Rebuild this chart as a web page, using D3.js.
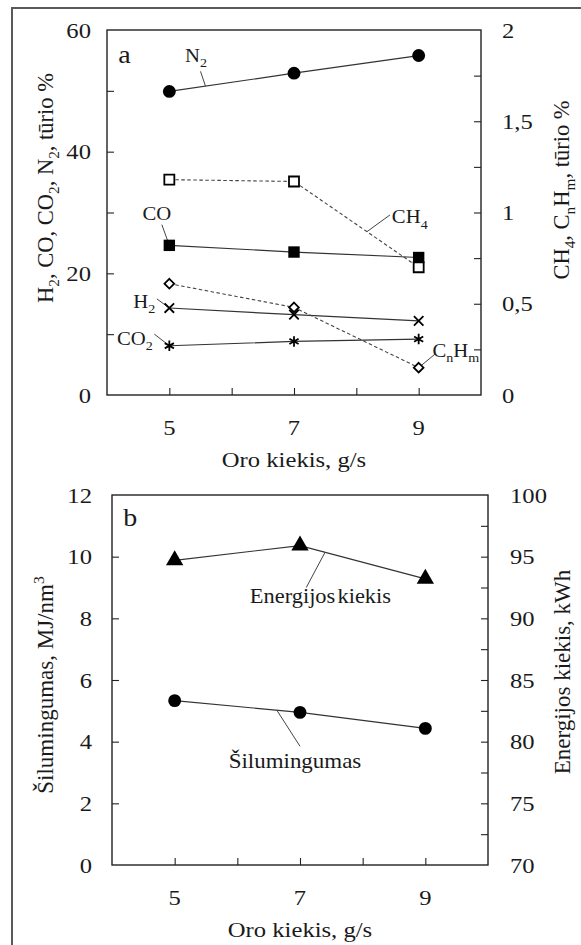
<!DOCTYPE html>
<html><head><meta charset="utf-8">
<script src="https://cdn.jsdelivr.net/npm/d3@7"></script>
<style>
body{margin:0;background:#fff}
svg{display:block}
text{font-family:"Liberation Serif","Times New Roman",serif;fill:#1a1a1a}
</style>
</head><body>
<svg id="c" width="581" height="945"></svg>
<script>
// ---------- data ----------
const airFlow = [5, 7, 9];                 // Oro kiekis, g/s
const n2   = [49.9, 52.9, 55.8];           // left axis, %
const co   = [24.6, 23.5, 22.6];
const h2   = [14.3, 13.2, 12.2];
const co2  = [8.1, 8.8, 9.2];
const ch4  = [1.18, 1.17, 0.70];           // right axis, %
const cnhm = [0.61, 0.48, 0.15];
const heatValue = [5.33, 4.95, 4.43];      // Šilumingumas, MJ/nm3
const energy    = [94.7, 95.9, 93.2];      // Energijos kiekis, kWh
const xTickLabels = [5, 7, 9];
const topLeftTicks = [0, 20, 40, 60];
const topRightTicks = [0, 0.5, 1, 1.5, 2];
const botLeftTicks = [0, 2, 4, 6, 8, 10, 12];
const botRightTicks = [70, 75, 80, 85, 90, 95, 100];

// ---------- setup ----------
const SX = 1.12;   // horizontal stretch of glyphs seen in the reference
const svg = d3.select('#c');
const lt = d3.formatLocale({decimal: ',', thousands: ' ', grouping: [3], currency: ['', '']});
const fmt = v => lt.format('~g')(v);

svg.append('rect').attr('x', 12).attr('y', 8).attr('width', 640).attr('height', 990)
  .attr('fill', 'none').attr('stroke', '#5a5a5a').attr('stroke-width', 2);

function txt(g, x, y, parts, o = {}) {
  const size = o.size || 22;
  const rot = o.rotate ? ' rotate(-90)' : '';
  const sx = o.rotate ? 1 : SX;
  const t = g.append('text')
    .attr('transform', `translate(${x},${y}) scale(${sx},1)${rot}`)
    .attr('text-anchor', o.anchor || 'start')
    .attr('font-size', size);
  if (o.dy) t.attr('dy', o.dy);
  if (o.ws) t.attr('word-spacing', o.ws);
  let shift = 0;
  parts.forEach(p => {
    const [s, kind] = Array.isArray(p) ? p : [p, ''];
    const ts = t.append('tspan').text(s);
    let target = 0;
    if (kind === 'sub') { target = size * 0.28; ts.attr('font-size', size * 0.68); }
    if (kind === 'sup') { target = -size * 0.4; ts.attr('font-size', size * 0.68); }
    if (target !== shift) { ts.attr('dy', target - shift); shift = target; }
  });
  return t;
}

function axes(g, x, yL, yR, o) {
  const [x0, x1] = x.range(), [y0, y1] = yL.range();
  // inward ticks
  const ax = d3.axisBottom(x).tickValues(d3.range(5, 10, 1)).tickSize(-7).tickSizeOuter(0).tickFormat('');
  g.append('g').attr('transform', `translate(0,${y0})`).call(ax);
  const al = d3.axisLeft(yL).tickValues(o.leftMinor).tickSize(-7).tickSizeOuter(0).tickFormat('');
  g.append('g').attr('transform', `translate(${x0},0)`).call(al);
  const ar = d3.axisRight(yR).tickValues(o.rightMinor).tickSize(-7).tickSizeOuter(0).tickFormat('');
  g.append('g').attr('transform', `translate(${x1},0)`).call(ar);
  g.selectAll('.domain').remove();
  g.selectAll('.tick line').attr('stroke', '#222').attr('stroke-width', 1.1);
  g.append('rect').attr('x', x0).attr('y', y1).attr('width', x1 - x0).attr('height', y0 - y1)
    .attr('fill', 'none').attr('stroke', '#222').attr('stroke-width', 1.4);
  // tick labels
  xTickLabels.forEach(v => txt(g, x(v), y0 + 32, [String(v)], {anchor: 'middle', dy: '0.35em'}));
  o.leftTicks.forEach(v => txt(g, x0 - o.lpad, yL(v), [fmt(v)], {anchor: 'end', dy: '0.35em'}));
  o.rightTicks.forEach(v => txt(g, x1 + o.rpad, yR(v), [fmt(v)], {anchor: 'start', dy: '0.35em'}));
  txt(g, (x0 + x1) / 2, y0 + 64, ['Oro kiekis, g/s'], {anchor: 'middle', dy: '0.35em'});
}

const line = (x, y) => d3.line().x((d, i) => x(airFlow[i])).y(d => y(d));

function series(g, x, y, vals, o) {
  g.append('path').datum(vals).attr('d', line(x, y)).attr('fill', 'none')
    .attr('stroke', o.dash ? '#444' : '#333').attr('stroke-width', o.dash ? 1.1 : 1.2)
    .attr('stroke-dasharray', o.dash ? '3.5,2.5' : null);
}
function markers(g, x, y, vals, o) {
  g.selectAll(null).data(vals).enter().append('path')
    .attr('transform', (d, i) => `translate(${x(airFlow[i])},${y(d)})`)
    .attr('d', d3.symbol().type(o.type).size(o.size))
    .attr('fill', o.open ? '#fff' : (o.stroked ? 'none' : '#000'))
    .attr('stroke', '#000').attr('stroke-width', o.open ? 1.8 : (o.stroked ? 1.8 : 0));
}
// interpolate the drawn series at a given x (for leader lines)
function at(vals, xv) {
  return d3.scaleLinear().domain(airFlow).range(vals)(xv);
}
function leader(g, x, y, from, vals, xv) {
  g.append('line').attr('x1', x(from[0])).attr('y1', y(from[1]))
    .attr('x2', x(xv)).attr('y2', y(at(vals, xv)))
    .attr('stroke', '#444').attr('stroke-width', 1);
}

const asterisk = {
  draw(ctx, size) {
    const r = Math.sqrt(size) / 2;
    const a = r * 0.87, b = r * 0.5;
    ctx.moveTo(0, -r); ctx.lineTo(0, r);
    ctx.moveTo(-a, -b); ctx.lineTo(a, b);
    ctx.moveTo(-a, b); ctx.lineTo(a, -b);
  }
};
const cross = {
  draw(ctx, size) {
    const r = Math.sqrt(size) / 2;
    ctx.moveTo(-r, -r); ctx.lineTo(r, r);
    ctx.moveTo(-r, r); ctx.lineTo(r, -r);
  }
};

// ---------- panel a ----------
{
  const g = svg.append('g');
  const x = d3.scaleLinear().domain([4, 10]).range([107, 481]);
  const yL = d3.scaleLinear().domain([0, 60]).range([395, 30]);
  const yR = d3.scaleLinear().domain([0, 2]).range([395, 30]);
  axes(g, x, yL, yR, {leftMinor: d3.range(10, 60, 10), rightMinor: d3.range(0.25, 2, 0.25),
    leftTicks: topLeftTicks, rightTicks: topRightTicks, lpad: 16, rpad: 21});

  series(g, x, yL, n2, {}); series(g, x, yL, co, {}); series(g, x, yL, h2, {}); series(g, x, yL, co2, {});
  series(g, x, yR, ch4, {dash: true}); series(g, x, yR, cnhm, {dash: true});

  leader(g, x, yL, [5.5, 53.2], n2, 5.58);
  leader(g, x, yL, [4.88, 28.0], co, 5.0);
  leader(g, x, yR, [8.54, 29.6 / 30], ch4, 8.17);
  leader(g, x, yL, [4.8, 15.8], h2, 5.0);
  leader(g, x, yL, [4.76, 10.0], co2, 5.0);
  leader(g, x, yR, [9.26, 6.7 / 30], cnhm, 9.0);

  markers(g, x, yL, n2, {type: d3.symbolCircle, size: 130});
  markers(g, x, yL, co, {type: d3.symbolSquare, size: 130});
  markers(g, x, yR, ch4, {type: d3.symbolSquare, size: 100, open: true});
  markers(g, x, yR, cnhm, {type: d3.symbolDiamond2, size: 60, open: true});
  markers(g, x, yL, h2, {type: cross, size: 90, stroked: true});
  markers(g, x, yL, co2, {type: asterisk, size: 110, stroked: true});

  txt(g, x(4.18), yL(54.5), ['a'], {size: 25});
  const ls = 18.5;
  txt(g, x(5.25), yL(54.8), ['N', ['2', 'sub']], {size: ls});
  txt(g, x(4.57), yL(28.8), ['CO'], {size: ls});
  txt(g, x(8.57), yR(28.2 / 30), ['CH', ['4', 'sub']], {size: ls});
  txt(g, x(4.42), yL(14.3), ['H', ['2', 'sub']], {size: ls});
  txt(g, x(4.16), yL(8.3), ['CO', ['2', 'sub']], {size: ls});
  txt(g, x(9.22), yR(6.3 / 30), ['C', ['n', 'sub'], 'H', ['m', 'sub']], {size: ls});

  txt(g, 45, 188, ['H', ['2', 'sub'], ', CO, CO', ['2', 'sub'], ', N', ['2', 'sub'], ', tūrio %'],
    {anchor: 'middle', rotate: true, dy: '0.35em', size: 22.5});
  txt(g, 561, 190, ['CH', ['4', 'sub'], ', C', ['n', 'sub'], 'H', ['m', 'sub'], ', tūrio %'],
    {anchor: 'middle', rotate: true, dy: '0.35em', size: 22.5});
}

// ---------- panel b ----------
{
  const g = svg.append('g');
  const x = d3.scaleLinear().domain([4, 10]).range([112, 488]);
  const yL = d3.scaleLinear().domain([0, 12]).range([865, 495]);
  const yR = d3.scaleLinear().domain([70, 100]).range([865, 495]);
  axes(g, x, yL, yR, {leftMinor: d3.range(2, 12, 2), rightMinor: d3.range(72.5, 100, 2.5),
    leftTicks: botLeftTicks, rightTicks: botRightTicks, lpad: 20, rpad: 22});

  series(g, x, yL, heatValue, {});
  series(g, x, yR, energy, {});
  leader(g, x, yR, [7.1, 70 + 9.0 * 2.5], energy, 7.4);
  leader(g, x, yL, [7.0, 3.85], heatValue, 6.63);
  markers(g, x, yL, heatValue, {type: d3.symbolCircle, size: 130});
  markers(g, x, yR, energy, {type: d3.symbolTriangle, size: 130});

  txt(g, x(4.18), yL(11.0), ['b'], {size: 25});
  txt(g, x(6.2), yL(8.5), ['Energijos kiekis'], {size: 20, ws: -3});
  txt(g, x(6.92), yL(3.15), ['Šilumingumas'], {size: 20.5, anchor: 'middle'});

  txt(g, 45, 685, ['Šilumingumas, MJ/nm', ['3', 'sup']], {anchor: 'middle', rotate: true, dy: '0.35em', size: 23});
  txt(g, 562, 672, ['Energijos kiekis, kWh'], {anchor: 'middle', rotate: true, dy: '0.35em', size: 23});
}
</script>
</body></html>
